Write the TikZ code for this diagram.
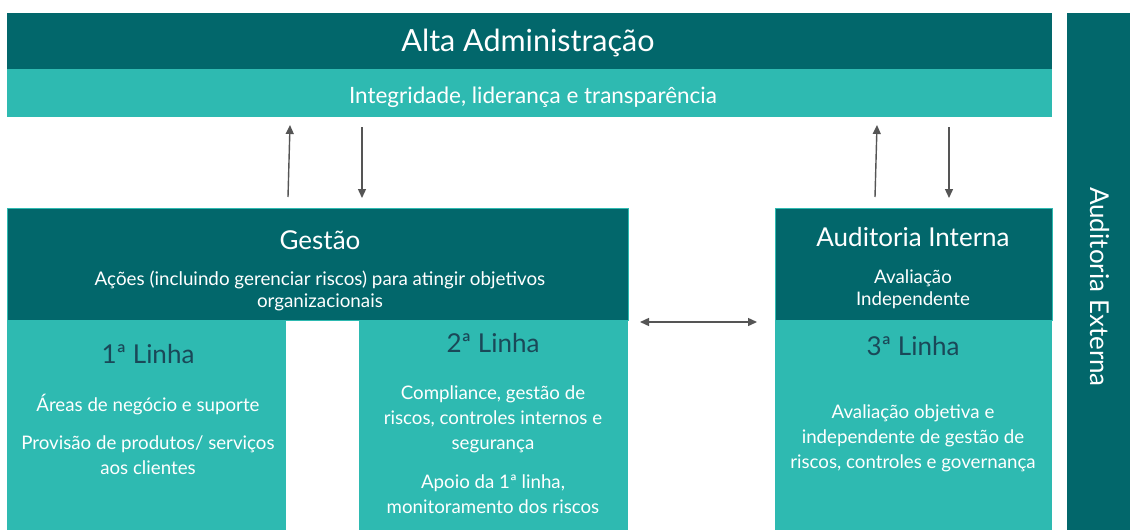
\documentclass[tikz,border=0pt]{standalone}
\usepackage{fontspec}
\setmainfont{Lato}
\usetikzlibrary{arrows.meta,calc}
\definecolor{dteal}{HTML}{02676B}
\definecolor{lteal}{HTML}{2EBAB1}
\definecolor{hd}{HTML}{1A4858}
\definecolor{ag}{HTML}{555555}
\begin{document}
\begin{tikzpicture}[x=1pt,y=-1pt,
  box/.style={rectangle, inner sep=0pt, outer sep=0pt, anchor=north west},
  dbox/.style={box, fill=dteal},
  lbox/.style={box, fill=lteal},
  txt/.style={text=white, inner sep=0pt, align=center},
  big/.style={font=\fontsize{26}{30}\selectfont},
  small/.style={font=\fontsize{18.7}{25}\selectfont},
  head/.style={txt, big, text=hd},
  arr/.style={draw=ag, line width=1.4pt, -{Triangle[length=9pt,width=8pt]}},
  darr/.style={draw=ag, line width=1.4pt, {Triangle[length=9pt,width=8pt]}-{Triangle[length=9pt,width=8pt]}}
]
\useasboundingbox (0,0) rectangle (1130,530);
\fill[white] (0,0) rectangle (1130,530);

% top bands
\node[dbox, minimum width=1045pt, minimum height=56pt] (alta) at (7,13) {};
\node[lbox, minimum width=1045pt, minimum height=48pt] (integ) at (7,69) {};
% external audit
\node[dbox, minimum width=70pt, minimum height=517pt] (ext) at (1067,13) {};

% management
\node[dbox, draw=lteal, line width=1pt, minimum width=621pt, minimum height=112pt] (gestao) at (7,208) {};
\node[lbox, minimum width=279pt, minimum height=210pt] (l1) at (7,320) {};
\node[lbox, minimum width=269pt, minimum height=210pt] (l2) at (359,320) {};

% internal audit
\node[dbox, draw=lteal, line width=1pt, minimum width=277pt, minimum height=112pt] (ai) at (775,208) {};
\node[lbox, minimum width=277pt, minimum height=210pt] (l3) at (775,320) {};

% texts
\node[txt, font=\fontsize{30.5}{34}\selectfont] (t-alta) at (528,43) {Alta Administração};
\node[txt, font=\fontsize{22.5}{26}\selectfont] (t-integ) at (533,97) {Integridade, liderança e transparência};
\node[txt, big, rotate=-90] (t-ext) at (1100,287) {Auditoria Externa};

\node[txt, big] (t-gestao) at (320,240) {Gestão};
\node[txt, font=\fontsize{18.8}{22}\selectfont] (t-acoes) at (320,291) {Ações (incluindo gerenciar riscos) para atingir objetivos\\organizacionais};

\node[head] (t-l1) at (148,354) {1ª Linha};
\node[txt, small] (t-areas) at (148,405) {Áreas de negócio e suporte};
\node[txt, small] (t-prov) at (148,455) {Provisão de produtos/ serviços\\aos clientes};

\node[head] (t-l2) at (493,343) {2ª Linha};
\node[txt, small] (t-comp) at (493,419) {Compliance, gestão de\\riscos, controles internos e\\segurança};
\node[txt, small] (t-apoio) at (493,494) {Apoio da 1ª linha,\\monitoramento dos riscos};

\node[txt, big] (t-ai) at (913,237) {Auditoria Interna};
\node[txt, font=\fontsize{18.7}{22}\selectfont] (t-aval) at (913,289) {Avaliação\\Independente};

\node[head] (t-l3) at (913,346) {3ª Linha};
\node[txt, small] (t-obj) at (913,438) {Avaliação objetiva e\\independente de gestão de\\riscos, controles e governança};

% arrows
\draw[arr] ([xshift=281pt,yshift=11pt]gestao.north west) -- ([xshift=283pt,yshift=-8pt]integ.south west);
\draw[arr] ([xshift=355pt,yshift=-10pt]integ.south west) -- ([xshift=355pt,yshift=10pt]gestao.north west);
\draw[arr] ([xshift=100pt,yshift=11pt]ai.north west) -- ([xshift=870pt,yshift=-8pt]integ.south west);
\draw[arr] ([xshift=942pt,yshift=-10pt]integ.south west) -- ([xshift=174pt,yshift=10pt]ai.north west);
\draw[darr] ([xshift=12pt,yshift=-2pt]gestao.south east) -- ([xshift=-18pt,yshift=-2pt]ai.south west);
\end{tikzpicture}
\end{document}
